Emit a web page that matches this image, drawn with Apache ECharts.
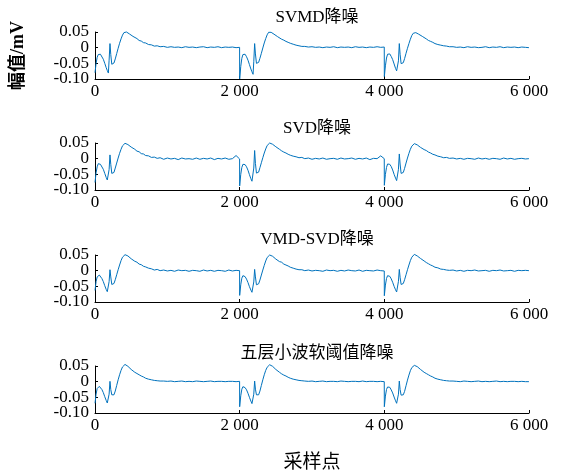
<!DOCTYPE html>
<html>
<head>
<meta charset="utf-8">
<script src="https://cdn.jsdelivr.net/npm/echarts@6/dist/echarts.min.js"></script>
<style>
html,body{margin:0;padding:0;background:#fff;}
#chart{width:566px;height:474px;}
</style>
</head>
<body>
<div id="chart"></div>
<script>
// ---------- data ----------
const titles = ['SVMD降噪', 'SVD降噪', 'VMD-SVD降噪', '五层小波软阈值降噪'];
const xTicks = [0, 2000, 4000, 6000];
const xTickLabels = ['0', '2 000', '4 000', '6 000'];
const yTicks = [-0.10, -0.05, 0, 0.05];
const yTickLabels = ['-0.10', '-0.05', '0', '0.05'];
const beatStarts = [0, 2000, 4000];
// sample offsets inside one beat
const offsets = [
  0, 15, 30, 45, 60, 75, 95, 115,
  135, 155, 170, 185, 195, 207, 218, 232,
  245, 262, 280, 300, 320, 340, 360, 380,
  400, 415, 435, 455, 475, 500, 525, 550,
  580, 610, 640, 670, 700, 740, 780, 820,
  860, 900, 950, 1000, 1050, 1100, 1150, 1200,
  1250, 1300, 1350, 1400, 1450, 1500, 1550, 1600,
  1650, 1700, 1750, 1800, 1850, 1900, 1950, 1999
];

const svmdBeat1 = [
  -0.080, -0.050, -0.031, -0.022, -0.018, -0.021, -0.027, -0.037,
  -0.050, -0.064, -0.073, -0.081, -0.040, 0.013, -0.022, -0.053,
  -0.057, -0.049, -0.036, -0.019, -0.002, 0.014, 0.028, 0.040,
  0.048, 0.051, 0.050, 0.046, 0.044, 0.039, 0.036, 0.031,
  0.029, 0.023, 0.021, 0.016, 0.015, 0.010, 0.009, 0.005,
  0.006, 0.003, 0.004, 0.001, 0.003, 0.001, 0.002, 0.000,
  0.003, 0.001, 0.002, 0.000, 0.002, 0.003, 0.000, 0.002,
  0.001, 0.003, 0.000, 0.002, 0.001, 0.002, 0.000, 0.001
];
const svmdBeat2 = [
  -0.100, -0.060, -0.034, -0.022, -0.018, -0.021, -0.029, -0.040,
  -0.054, -0.068, -0.077, -0.085, -0.045, 0.013, -0.020, -0.050,
  -0.054, -0.047, -0.034, -0.018, -0.001, 0.015, 0.029, 0.041,
  0.049, 0.051, 0.049, 0.047, 0.043, 0.040, 0.035, 0.032,
  0.027, 0.024, 0.020, 0.017, 0.014, 0.011, 0.008, 0.006,
  0.004, 0.004, 0.002, 0.003, 0.001, 0.002, 0.000, 0.002,
  0.001, 0.003, 0.000, 0.002, 0.001, 0.002, 0.000, 0.003,
  0.001, 0.002, 0.000, 0.002, 0.001, 0.003, 0.001, 0.002
];
const svmdBeat3 = [
  -0.092, -0.058, -0.033, -0.021, -0.018, -0.020, -0.028, -0.038,
  -0.052, -0.066, -0.074, -0.080, -0.042, 0.013, -0.021, -0.051,
  -0.055, -0.048, -0.035, -0.018, -0.002, 0.013, 0.027, 0.039,
  0.046, 0.048, 0.048, 0.046, 0.043, 0.039, 0.036, 0.031,
  0.028, 0.023, 0.020, 0.017, 0.013, 0.010, 0.008, 0.006,
  0.005, 0.003, 0.003, 0.001, 0.002, 0.000, 0.003, 0.001,
  0.002, 0.000, 0.001, 0.003, 0.000, 0.002, 0.001, 0.003,
  0.000, 0.002, 0.001, 0.002, 0.000, 0.002, 0.001, 0.000
];

const svdBeat1 = [
  -0.076, -0.045, -0.026, -0.016, -0.013, -0.018, -0.024, -0.034,
  -0.047, -0.060, -0.068, -0.074, -0.035, 0.012, -0.018, -0.047,
  -0.050, -0.044, -0.030, -0.014, 0.002, 0.017, 0.030, 0.041,
  0.047, 0.049, 0.046, 0.045, 0.039, 0.037, 0.031, 0.030,
  0.024, 0.022, 0.016, 0.015, 0.010, 0.009, 0.004, 0.005,
  0.001, 0.003, -0.002, 0.002, -0.001, 0.001, -0.003, 0.002,
  -0.001, 0.000, -0.002, 0.002, -0.002, 0.001, -0.001, 0.002,
  -0.003, 0.001, -0.001, 0.002, -0.002, 0.000, 0.010, -0.001
];
const svdBeat2 = [
  -0.087, -0.050, -0.028, -0.018, -0.014, -0.019, -0.026, -0.037,
  -0.051, -0.064, -0.072, -0.078, -0.030, 0.026, -0.015, -0.046,
  -0.050, -0.043, -0.029, -0.013, 0.003, 0.018, 0.031, 0.042,
  0.048, 0.050, 0.047, 0.046, 0.041, 0.038, 0.032, 0.030,
  0.025, 0.021, 0.018, 0.014, 0.011, 0.008, 0.006, 0.003,
  0.004, 0.000, 0.002, -0.002, 0.001, -0.001, 0.002, -0.002,
  0.000, 0.001, -0.002, 0.002, -0.001, 0.000, 0.002, -0.002,
  0.001, -0.001, 0.002, -0.003, 0.001, 0.000, 0.009, 0.000
];
const svdBeat3 = [
  -0.085, -0.050, -0.028, -0.017, -0.014, -0.018, -0.025, -0.036,
  -0.050, -0.062, -0.070, -0.076, -0.034, 0.015, -0.017, -0.047,
  -0.051, -0.044, -0.031, -0.014, 0.002, 0.017, 0.030, 0.040,
  0.046, 0.048, 0.047, 0.044, 0.041, 0.036, 0.033, 0.029,
  0.026, 0.021, 0.018, 0.014, 0.012, 0.008, 0.006, 0.003,
  0.004, 0.001, 0.002, -0.001, 0.001, -0.002, 0.001, 0.000,
  -0.002, 0.002, -0.001, 0.001, -0.002, 0.001, 0.000, -0.002,
  0.002, -0.001, 0.001, -0.002, 0.000, 0.001, -0.001, 0.000
];

const vmdSvdBeat1 = [
  -0.063, -0.035, -0.020, -0.015, -0.014, -0.018, -0.025, -0.035,
  -0.048, -0.060, -0.067, -0.073, -0.035, 0.003, -0.020, -0.044,
  -0.047, -0.041, -0.029, -0.013, 0.003, 0.018, 0.032, 0.043,
  0.049, 0.051, 0.050, 0.047, 0.043, 0.038, 0.035, 0.030,
  0.027, 0.021, 0.019, 0.014, 0.012, 0.008, 0.006, 0.002,
  0.004, 0.000, 0.002, -0.001, 0.001, -0.002, 0.002, 0.000,
  0.001, -0.002, 0.001, 0.000, -0.002, 0.002, -0.001, 0.001,
  -0.002, 0.001, 0.000, -0.002, 0.002, -0.001, 0.001, 0.000
];
const vmdSvdBeat2 = [
  -0.079, -0.045, -0.024, -0.016, -0.014, -0.019, -0.027, -0.038,
  -0.051, -0.062, -0.069, -0.074, -0.036, 0.004, -0.020, -0.045,
  -0.048, -0.042, -0.030, -0.014, 0.002, 0.017, 0.031, 0.042,
  0.048, 0.050, 0.049, 0.046, 0.043, 0.037, 0.035, 0.029,
  0.027, 0.021, 0.018, 0.015, 0.011, 0.008, 0.005, 0.003,
  0.003, 0.000, 0.002, -0.001, 0.001, 0.000, -0.002, 0.002,
  0.000, 0.001, -0.002, 0.001, -0.001, 0.002, 0.000, -0.001,
  0.002, -0.002, 0.001, 0.000, -0.001, 0.002, 0.000, -0.001
];
const vmdSvdBeat3 = [
  -0.080, -0.046, -0.025, -0.016, -0.014, -0.018, -0.026, -0.037,
  -0.050, -0.061, -0.068, -0.073, -0.034, 0.004, -0.021, -0.044,
  -0.047, -0.041, -0.029, -0.013, 0.003, 0.018, 0.032, 0.043,
  0.049, 0.052, 0.050, 0.047, 0.043, 0.039, 0.034, 0.031,
  0.026, 0.022, 0.018, 0.015, 0.011, 0.009, 0.005, 0.004,
  0.002, 0.001, 0.002, -0.001, 0.001, -0.002, 0.001, 0.000,
  0.002, -0.001, 0.000, 0.001, -0.002, 0.001, 0.000, 0.002,
  -0.001, 0.000, 0.001, -0.002, 0.001, 0.000, 0.001, 0.000
];

const waveletBeat1 = [
  -0.069, -0.040, -0.022, -0.016, -0.015, -0.018, -0.025, -0.035,
  -0.048, -0.060, -0.068, -0.074, -0.040, 0.001, -0.025, -0.042,
  -0.040, -0.042, -0.030, -0.012, 0.006, 0.022, 0.036, 0.047,
  0.053, 0.055, 0.053, 0.049, 0.044, 0.039, 0.034, 0.030,
  0.026, 0.022, 0.018, 0.015, 0.011, 0.008, 0.006, 0.004,
  0.003, 0.002, 0.002, 0.001, 0.002, 0.000, 0.001, 0.002,
  0.000, 0.001, 0.000, 0.002, 0.001, 0.000, 0.001, 0.002,
  0.000, 0.001, 0.001, 0.000, 0.001, 0.001, 0.000, 0.001
];
const waveletBeat2 = [
  -0.080, -0.045, -0.024, -0.016, -0.015, -0.019, -0.026, -0.037,
  -0.050, -0.062, -0.070, -0.075, -0.040, 0.002, -0.024, -0.042,
  -0.041, -0.042, -0.030, -0.012, 0.006, 0.022, 0.036, 0.046,
  0.052, 0.054, 0.052, 0.049, 0.044, 0.039, 0.034, 0.030,
  0.025, 0.021, 0.018, 0.014, 0.011, 0.008, 0.006, 0.004,
  0.003, 0.002, 0.001, 0.002, 0.000, 0.001, 0.002, 0.000,
  0.001, 0.001, 0.000, 0.002, 0.001, 0.000, 0.001, 0.001,
  0.000, 0.002, 0.000, 0.001, 0.001, 0.000, 0.001, 0.000
];
const waveletBeat3 = [
  -0.080, -0.046, -0.025, -0.017, -0.015, -0.018, -0.026, -0.036,
  -0.049, -0.061, -0.069, -0.074, -0.040, 0.002, -0.025, -0.043,
  -0.041, -0.042, -0.031, -0.013, 0.005, 0.021, 0.035, 0.045,
  0.050, 0.052, 0.051, 0.048, 0.044, 0.039, 0.034, 0.030,
  0.026, 0.022, 0.018, 0.015, 0.011, 0.008, 0.006, 0.004,
  0.003, 0.002, 0.002, 0.001, 0.000, 0.002, 0.001, 0.000,
  0.001, 0.002, 0.000, 0.001, 0.000, 0.001, 0.002, 0.000,
  0.001, 0.000, 0.001, 0.001, 0.000, 0.001, 0.000, 0.000
];

const seriesBeats = [
  [svmdBeat1, svmdBeat2, svmdBeat3],
  [svdBeat1, svdBeat2, svdBeat3],
  [vmdSvdBeat1, vmdSvdBeat2, vmdSvdBeat3],
  [waveletBeat1, waveletBeat2, waveletBeat3]
];

// ---------- chart ----------
const FONT = '"Liberation Serif", "Times New Roman", "Noto Sans CJK SC", serif';
const LINE_COLOR = '#0072BD';
const gridTops = [32, 143, 255, 366];
const gridH = 47;
const titleTops = [4, 115, 226, 340];

function buildSeriesData(beats) {
  const out = [];
  beats.forEach((vals, b) => {
    const n = Math.min(vals.length, offsets.length);
    for (let i = 0; i < n; i++) out.push([beatStarts[b] + offsets[i], vals[i]]);
  });
  return out;
}
function yLabel(v) {
  let best = 0;
  yTicks.forEach((t, i) => { if (Math.abs(t - v) < Math.abs(yTicks[best] - v)) best = i; });
  return yTickLabels[best];
}
// labels split into two alternating sets so none is dropped as overlapping
const yLabelSetA = [yTicks[1], yTicks[3]];
const yLabelSetB = [yTicks[0], yTicks[2]];

const grid = [], xAxis = [], yAxis = [], series = [], title = [];
for (let k = 0; k < 4; k++) {
  grid.push({ left: 95, right: 37, top: gridTops[k], height: gridH });
  title.push({
    text: titles[k], left: 312, top: titleTops[k], textAlign: 'center',
    textStyle: { fontFamily: FONT, fontSize: 17, fontWeight: 'normal', color: '#000' }
  });
  xAxis.push({
    type: 'value', gridIndex: k, min: 0, max: 6000, interval: 2000,
    axisLine: { show: true, onZero: false, lineStyle: { color: '#000', width: 1 } },
    axisTick: { show: true, inside: true, length: 3, lineStyle: { color: '#000' } },
    splitLine: { show: false },
    axisLabel: {
      color: '#000', fontFamily: FONT, fontSize: 17, margin: 4,
      showMinLabel: true, showMaxLabel: true,
      formatter: v => { const i = xTicks.indexOf(v); return i >= 0 ? xTickLabels[i] : ''; }
    },
    name: k === 3 ? '采样点' : '', nameLocation: 'middle', nameGap: 41,
    nameTextStyle: { color: '#000', fontFamily: FONT, fontSize: 19 }
  });
  const yBase = {
    type: 'value', gridIndex: k, position: 'left', min: -0.10, max: 0.05, interval: 0.05,
    splitLine: { show: false }
  };
  yAxis.push(Object.assign({}, yBase, {
    axisLine: { show: true, lineStyle: { color: '#000', width: 1 } },
    axisTick: { show: true, inside: true, length: 3, lineStyle: { color: '#000' } },
    axisLabel: {
      color: '#000', fontFamily: FONT, fontSize: 17, margin: 6,
      customValues: yLabelSetA, formatter: yLabel
    },
    name: k === 0 ? '幅值/mV' : '', nameLocation: 'middle', nameGap: 68, nameRotate: 90,
    nameTextStyle: { color: '#000', fontFamily: FONT, fontSize: 18, fontWeight: 'bold' }
  }));
  yAxis.push(Object.assign({}, yBase, {
    axisLine: { show: false },
    axisTick: { show: false },
    axisLabel: {
      color: '#000', fontFamily: FONT, fontSize: 17, margin: 6,
      customValues: yLabelSetB, formatter: yLabel
    }
  }));
  series.push({
    type: 'line', xAxisIndex: k, yAxisIndex: 2 * k, showSymbol: false, clip: false,
    data: buildSeriesData(seriesBeats[k]),
    lineStyle: { color: LINE_COLOR, width: 1 }, itemStyle: { color: LINE_COLOR },
    animation: false
  });
}

const chart = echarts.init(document.getElementById('chart'), null, { renderer: 'canvas' });
chart.setOption({ animation: false, backgroundColor: '#fff', title, grid, xAxis, yAxis, series });
</script>
</body>
</html>
